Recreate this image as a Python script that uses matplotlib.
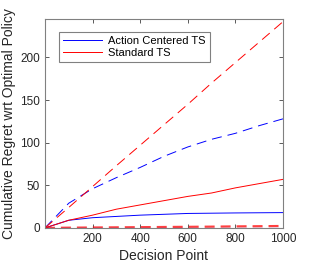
import numpy as np
import matplotlib
matplotlib.use("Agg")
import matplotlib.pyplot as plt

plt.rcParams['font.family'] = ['Liberation Sans', 'DejaVu Sans']
plt.rcParams['lines.scale_dashes'] = False

# decision points and cumulative regret
steps = [0, 100, 200, 300, 400, 500, 600, 700, 800, 900, 1000]
ac_ts = [0, 9, 12, 13.5, 15, 16, 17, 17.3, 17.6, 17.8, 18]
std_ts = [0, 9, 15, 22, 27, 32, 37, 41, 47, 52, 57]
ac_ts_dashed = [0, 29, 46, 59, 71, 84, 95, 104, 111, 120, 128]
std_ts_dashed = [0, 24, 48.5, 73, 97, 121, 145, 170, 194, 218, 242]
ac_ts_low = [0, 0, 0, 0, 0, 0, 0, 0, 0, 0, 0]
std_ts_low = [0, 0.3, 0.5, 0.7, 0.9, 1.1, 1.3, 1.5, 1.8, 2.0, 2.3]

blue = '#0000ff'
red = '#ff0000'
dash = (0, (7.2, 4.3))

def main():
    fig = plt.figure(figsize=(3.12, 2.62), dpi=100)
    ax = fig.add_axes([0.144, 0.130, 0.763, 0.797])

    ax.plot(steps, ac_ts, color=blue, lw=0.7, label='Action Centered TS')
    ax.plot(steps, std_ts, color=red, lw=0.7, label='Standard TS')
    ax.plot(steps, ac_ts_dashed, color=blue, lw=0.7, linestyle=dash)
    ax.plot(steps, std_ts_dashed, color=red, lw=0.7, linestyle=dash)
    ax.plot(steps, std_ts_low, color=red, lw=1.6, alpha=0.75, linestyle=dash)
    ax.plot(steps, ac_ts_low, color=blue, lw=0.8, linestyle=dash)

    ax.set_xlim(0, 1000)
    ax.set_ylim(0, 245)
    ax.set_xticks([200, 400, 600, 800, 1000])
    ax.set_yticks([0, 50, 100, 150, 200])
    ax.tick_params(direction='in', top=True, right=True, length=3,
                   width=0.6, color='#404040', labelsize=8.5, pad=3.5)
    for s in ax.spines.values():
        s.set_color('#808080')
        s.set_linewidth(0.8)
    ax.set_xlabel('Decision Point', fontsize=10, labelpad=3, color='#262626')
    ax.set_ylabel('Cumulative Regret wrt Optimal Policy', fontsize=10,
                  labelpad=3, color='#262626')
    for lbl in ax.get_xticklabels() + ax.get_yticklabels():
        lbl.set_color('#262626')

    leg = ax.legend(loc='upper left', bbox_to_anchor=(0.059, 0.938),
                    borderaxespad=0, fontsize=8, fancybox=False,
                    handlelength=3.5, handletextpad=0.6, borderpad=0.35,
                    labelspacing=0.15, framealpha=1)
    leg.get_frame().set_edgecolor('#808080')
    leg.get_frame().set_linewidth(0.8)

    plt.savefig('out.png', dpi=100)

if __name__ == "__main__":
    main()
